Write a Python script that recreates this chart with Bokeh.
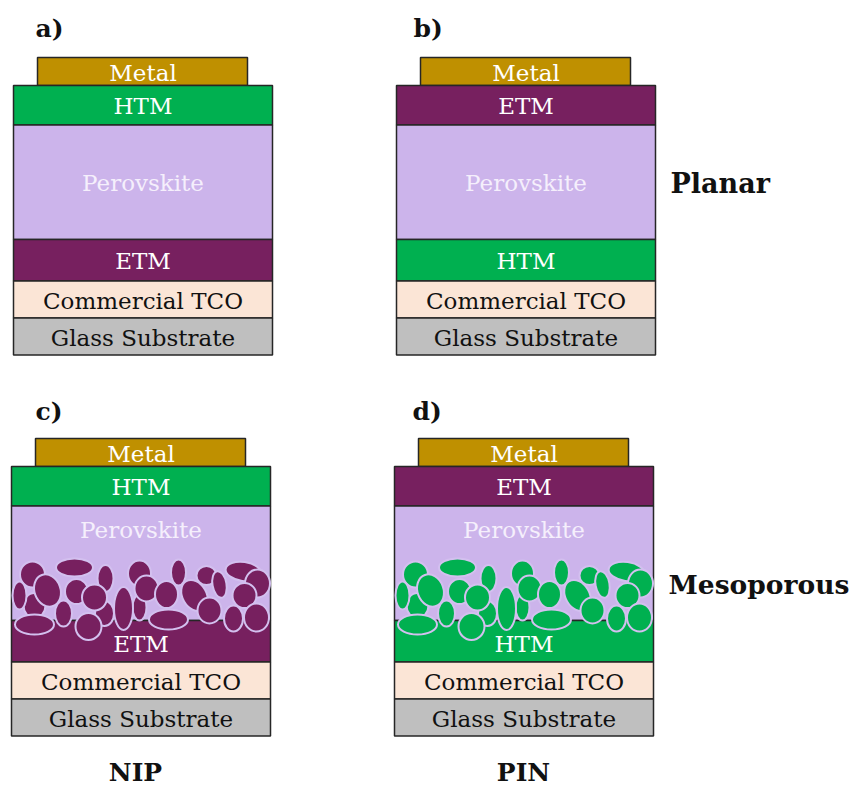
from bokeh.plotting import figure
from bokeh.models import Range1d, ColumnDataSource
from bokeh.embed import file_html
from bokeh.resources import INLINE
from bokeh.core.properties import value

# ---- content -------------------------------------------------------------
# layer stacks, top to bottom, below the metal contact
nip_layers = ["HTM", "Perovskite", "ETM", "Commercial TCO", "Glass Substrate"]
pin_layers = ["ETM", "Perovskite", "HTM", "Commercial TCO", "Glass Substrate"]
panel_labels = ["a)", "b)", "c)", "d)"]
row_labels = ["Planar", "Mesoporous"]
col_labels = ["NIP", "PIN"]
contact_label = "Metal"

# mesoporous scaffold grains: centre offset from the stack's left edge and
# from the perovskite base, width, height and tilt in degrees
grain_dx = [23, 93, 128, 63, 232, 167, 128, 21, 195, 94, 246, 208, 135,
            36, 65, 155, 8, 183, 233, 83, 112, 198, 52, 245, 222, 157, 23, 77]
grain_dy = [-15, -7, -13, -53, -49, -48, -47, -46, -45, -42, -37, -36, -32,
            -30, -29, -26, -25, -25, -25, -23, -12, -10, -7, -3, -2, -1, 4, 6]
grain_w = [22, 19, 14, 37, 36, 15, 23, 25, 20, 16, 25, 14, 24,
           26, 23, 23, 14, 24, 24, 25, 19, 24, 17, 25, 19, 39, 39, 26]
grain_h = [25, 25, 26, 18, 19, 26, 26, 26, 19, 27, 28, 27, 26,
           33, 25, 27, 28, 33, 25, 26, 43, 26, 26, 28, 26, 20, 20, 27]
grain_tilt = [0, 0, 0, 0, -8, 0, 0, 0, 0, 0, 0, 10, 0,
              20, 0, 0, 0, 30, 0, 0, 0, 0, 0, 0, 0, 0, 0, 0]

# ---- styling ---------------------------------------------------------------
COLORS = {
    "Metal": "#bf9000",
    "HTM": "#00b050",
    "ETM": "#77205f",
    "Perovskite": "#ccb4eb",
    "Commercial TCO": "#fbe5d6",
    "Glass Substrate": "#bfbfbf",
}
TEXT_COLORS = {
    "Metal": "white",
    "HTM": "white",
    "ETM": "white",
    "Perovskite": "#f5effc",
    "Commercial TCO": "#111111",
    "Glass Substrate": "#111111",
}
FONT = value("DejaVu Serif")
EDGE = "#262626"

W, H = 852, 787
THICK = [39.5, 114.5, 41.5, 37, 37]   # layer heights, top to bottom
STACK_W = 259
METAL_INSET, METAL_W, METAL_H = 24, 210, 28

p = figure(width=W, height=H, output_backend="svg", toolbar_location=None,
           x_range=Range1d(0, W), y_range=Range1d(H, 0),
           min_border=0, outline_line_color=None, background_fill_color="white")
p.axis.visible = False
p.grid.visible = False

# panel placement: (stack left, stack top, layers, mesoporous?)
panels = [
    (13, 85, nip_layers, False),
    (396, 85, pin_layers, False),
    (11, 466, nip_layers, True),
    (394, 466, pin_layers, True),
]
panel_label_pos = [(35, 28), (413, 28), (35, 411), (412, 411)]


def label(x, y, text, color, size, bold=False, align="center"):
    p.text(x=[x], y=[y], text=[text], text_color=color, text_font=FONT,
           text_font_size=value(f"{size}px"), text_align=align,
           text_baseline="middle",
           text_font_style="bold" if bold else "normal")


for (x0, top, layers, meso), lab, (lx, ly) in zip(panels, panel_labels, panel_label_pos):
    # metal contact
    p.quad(left=[x0 + METAL_INSET], right=[x0 + METAL_INSET + METAL_W],
           top=[top - METAL_H], bottom=[top], fill_color=COLORS["Metal"],
           line_color=EDGE, line_width=1.5)
    label(x0 + STACK_W / 2, top - METAL_H / 2 + 1, contact_label,
          TEXT_COLORS["Metal"], 23)

    # layer stack
    y = top
    bounds = []
    for name, t in zip(layers, THICK):
        bounds.append((y, y + t))
        p.quad(left=[x0], right=[x0 + STACK_W], top=[y], bottom=[y + t],
               fill_color=COLORS[name], line_color=EDGE, line_width=1.5)
        y += t

    # porous scaffold of the lower transport material reaching into the perovskite
    if meso:
        base = bounds[1][1]
        src = ColumnDataSource(dict(
            x=[x0 + d for d in grain_dx],
            y=[base + d for d in grain_dy],
            w=grain_w, h=grain_h, a=grain_tilt))
        p.ellipse(x="x", y="y", width="w", height="h", angle="a",
                  angle_units="deg", source=src, fill_color=COLORS[layers[2]],
                  line_color="#d3c0ef", line_width=2)

    for i, name in enumerate(layers):
        y_top, y_bot = bounds[i]
        ty = (y_top + y_bot) / 2 + 1
        if meso and name == "Perovskite":
            ty = y_top + 24
        elif meso and i == 2:
            ty += 2
        label(x0 + STACK_W / 2, ty, name, TEXT_COLORS[name], 23)

    label(lx, ly, lab, "#111111", 25, bold=True, align="left")

# row and column captions
label(670, 183, row_labels[0], "#111111", 27, bold=True, align="left")
label(668, 584, row_labels[1], "#111111", 26.5, bold=True, align="left")
label(135, 772, col_labels[0], "#111111", 25, bold=True)
label(523, 772, col_labels[1], "#111111", 25, bold=True)

open("out.html", "w").write(file_html(p, INLINE))
